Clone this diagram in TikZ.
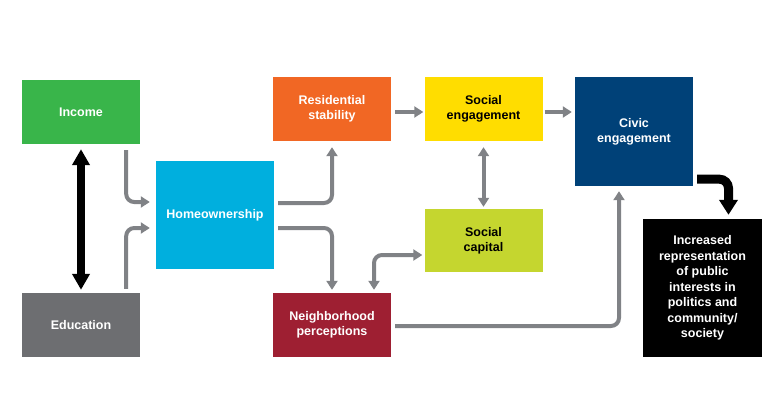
\documentclass[tikz,border=0pt]{standalone}
\usepackage{fontspec}
\setmainfont{Liberation Sans}
\usepackage{tikz}
\usetikzlibrary{arrows.meta,positioning,calc}
\usepackage{xcolor}
\definecolor{incgreen}{RGB}{57,181,74}
\definecolor{edugray}{RGB}{109,110,113}
\definecolor{homecyan}{RGB}{0,175,222}
\definecolor{resorange}{RGB}{241,103,36}
\definecolor{engyellow}{RGB}{255,221,0}
\definecolor{caplime}{RGB}{197,214,47}
\definecolor{neighred}{RGB}{158,31,50}
\definecolor{civicblue}{RGB}{0,65,120}
\definecolor{arrowgray}{RGB}{128,130,134}

\begin{document}
\begin{tikzpicture}[
    x=1pt, y=-1pt,
    box/.style={rectangle, inner sep=0pt, minimum width=118pt,
                minimum height=64pt, align=center, text=white,
                font=\fontsize{12.5}{15}\selectfont\bfseries},
    arrow/.style={-{Triangle[width=11pt,length=9pt]}, line width=4pt,
                  arrowgray, rounded corners=8pt},
    dblarrow/.style={{Triangle[width=11pt,length=9pt]}-{Triangle[width=11pt,length=9pt]},
                  line width=4pt, arrowgray, rounded corners=8pt},
    bigarrow/.style={-{Triangle[width=18pt,length=15pt]}, line width=9pt,
                  black, rounded corners=9pt}
]
\useasboundingbox (0,0) rectangle (780,416);
\node[box, fill=incgreen] (inc) at (81, 112) {Income};
\node[box, fill=edugray] (edu) at (81, 325) {Education};
\node[box, fill=homecyan, minimum height=108pt] (home) at (215, 215) {Homeownership};
\node[box, fill=resorange] (res) at (332, 109) {Residential\\stability};
\node[box, fill=engyellow, text=black] (soceng) at (483.5, 109) {Social\\engagement};
\node[box, fill=caplime, text=black, minimum height=63pt] (soccap) at (483.5, 240.5) {Social\\capital};
\node[box, fill=neighred] (neigh) at (332, 325) {Neighborhood\\perceptions};
\node[box, fill=civicblue, minimum height=109pt] (civic) at (634, 131.5) {Civic\\engagement};
\node[box, fill=black, minimum width=119pt, minimum height=138pt,
      font=\fontsize{12.5}{15.5}\selectfont\bfseries] (repr) at (702.5, 288)
    {Increased\\representation\\of public\\interests in\\politics and\\community/\\society};
% income <-> education
\draw[{Triangle[width=17pt,length=16pt]}-{Triangle[width=17pt,length=16pt]},
      line width=8pt, black, shorten <=5pt, shorten >=3pt] (inc.south) -- (edu.north);
% into homeownership
\draw[arrow, shorten <=6pt, shorten >=6pt]
    ([xshift=-14pt]inc.south east) |- ([yshift=13pt]home.west);
\draw[arrow, shorten <=4pt, shorten >=6pt]
    ([xshift=-14pt]edu.north east) |- ([yshift=-13pt]home.west);
% out of homeownership
\draw[arrow, shorten <=4pt, shorten >=6pt]
    ([yshift=12pt]home.east) -| (res.south);
\draw[arrow, shorten <=4pt, shorten >=3pt]
    ([yshift=-13pt]home.east) -| (neigh.north);
\draw[arrow, shorten <=4pt, shorten >=1pt]
    ([yshift=-3pt]res.east) -- ([yshift=-3pt]soceng.west);
\draw[dblarrow, shorten <=6pt, shorten >=2pt] (soceng.south) -- (soccap.north);
\draw[dblarrow, shorten <=3pt, shorten >=2pt]
    ([xshift=42pt]neigh.north) |- ([yshift=-14.5pt]soccap.west);
\draw[arrow, shorten <=2pt, shorten >=3pt]
    ([yshift=-3pt]soceng.east) -- ([yshift=19.5pt]civic.west);
\draw[arrow, shorten <=4pt, shorten >=5pt]
    ([yshift=-1pt]neigh.east) -| ([xshift=-15pt]civic.south);
% civic -> representation
\draw[bigarrow, shorten <=4pt, shorten >=4pt]
    ([yshift=7pt]civic.south east) -| ([xshift=26pt]repr.north);
\end{tikzpicture}
\end{document}
